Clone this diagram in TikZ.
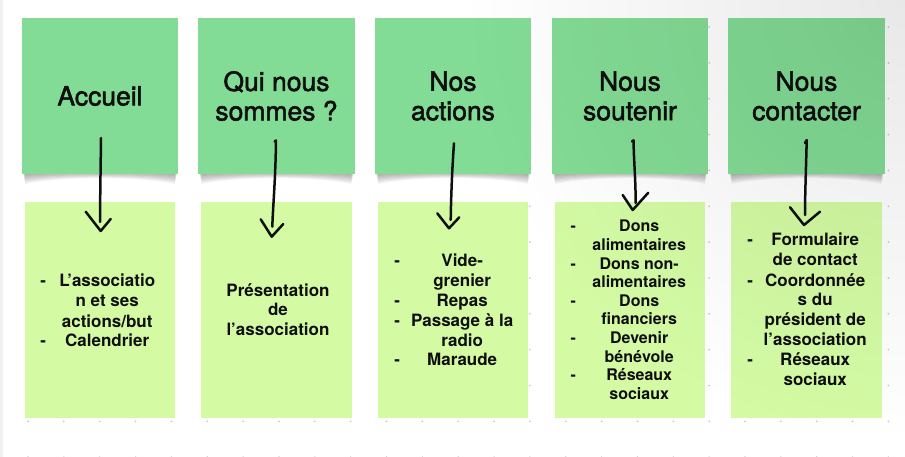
\documentclass[tikz,border=0pt]{standalone}
\usepackage{fontspec}
\setmainfont{TeX Gyre Heros}
\newfontfamily\titlefont{TeX Gyre Heros}[FakeBold=2]
\usepackage{array}
\usetikzlibrary{fadings}
\definecolor{topgreen}{RGB}{131,220,149}
\definecolor{botgreen}{RGB}{212,251,164}
\definecolor{dotgray}{RGB}{203,203,203}
\definecolor{ink}{RGB}{15,15,15}
\tikzfading[name=vigfade, inner color=transparent!0, outer color=transparent!100]
\newcolumntype{D}{>{\centering\arraybackslash}p{10pt}}
\newcolumntype{T}[1]{>{\centering\arraybackslash}p{#1}}
\begin{document}
\begin{tikzpicture}[x=1pt,y=-1pt,
  topbox/.style={fill=topgreen, minimum width=156.5pt, minimum height=156pt, inner sep=0pt, align=center, text=ink, font=\titlefont\fontsize{26.5}{29.5}\selectfont},
  botbox/.style={fill=botgreen, minimum width=150.5pt, minimum height=216pt, inner sep=0pt},
  btext/.style={inner sep=0pt, text=ink, font=\bfseries\fontsize{17}{20}\selectfont},
  btextsmall/.style={btext, font=\bfseries\fontsize{16}{18.6}\selectfont},
  stroke/.style={draw=ink, line width=2.5pt, line cap=round, line join=round},
  shadowlayer/.style={fill=black, fill opacity=0.045},
]
\useasboundingbox (0,0) rectangle (905,457);
\fill[white] (0,0) rectangle (905,457);
% dot grid
\foreach \i in {0,...,24}{\foreach \j in {0,...,12}{\fill[dotgray] ({28+35.85*\i},{27+35.85*\j}) circle (1pt);}}
\fill[gray!12] (0,0) rectangle (2.5,457);
% sticky note shadows (soft, layered)
\foreach \c in {100,276.5,453,630,806.5}{
  \foreach \k in {0,1,...,7}{
    \fill[shadowlayer] ({\c-77+0.3*\k},168) -- ({\c+77-0.3*\k},168) -- ({\c+77-0.3*\k},{175+1.3*\k}) .. controls ({\c+40},{172+0.6*\k}) and ({\c-40},{172+0.6*\k}) .. ({\c-77+0.3*\k},{175+1.3*\k}) -- cycle;
  }
}
% top notes
\node[topbox] (t1) at (100,96) {Accueil};
\node[topbox] (t2) at (276.5,96) {Qui nous\\sommes ?};
\node[topbox] (t3) at (453,96) {Nos\\actions};
\node[topbox] (t4) at (630,96) {Nous\\soutenir};
\node[topbox] (t5) at (806.5,96) {Nous\\contacter};
% bottom notes
\node[botbox] (b1) at (100,310) {};
\node[botbox] (b2) at (276.5,310) {};
\node[botbox] (b3) at (453,310) {};
\node[botbox] (b4) at (630,310) {};
\node[botbox] (b5) at (806.5,310) {};
% bottom texts
\node[btext, anchor=base west] (b1t) at (38,287) {\begin{tabular}[t]{@{}D@{}T{118pt}@{}}
-&L’associatio\\ &n et ses\\ &actions/but\\ -&Calendrier\end{tabular}};
\node[btext, anchor=base, font=\bfseries\fontsize{17}{19.6}\selectfont] (b2t) at (278,296) {\begin{tabular}[t]{@{}c@{}}
Présentation\\de\\l’association\end{tabular}};
\node[btext, anchor=base west] (b3t) at (392,266) {\begin{tabular}[t]{@{}D@{}T{120pt}@{}}
-&Vide-\\ &grenier\\ -&Repas\\ -&Passage à la\\ &radio\\ -&Maraude\end{tabular}};
\node[btextsmall, anchor=base west] (b4t) at (568,232) {\begin{tabular}[t]{@{}D@{}T{122pt}@{}}
-&Dons\\ &alimentaires\\ -&Dons non-\\ &alimentaires\\ -&Dons\\ &financiers\\ -&Devenir\\ &bénévole\\ -&Réseaux\\ &sociaux\end{tabular}};
\node[btext, anchor=base west] (b5t) at (745,246) {\begin{tabular}[t]{@{}D@{}T{120pt}@{}}
-&Formulaire\\ &de contact\\ -&Coordonnée\\ &s du\\ &président de\\ &l’association\\ -&Réseaux\\ &sociaux\end{tabular}};
% hand-drawn arrows
\coordinate (a1s) at (101,138);   \coordinate (a1e) at (100,222);
\coordinate (a1l) at (85.7,211.7); \coordinate (a1t) at (100.7,231); \coordinate (a1r) at (110.7,219);
\coordinate (a2h) at (274.6,141.5); \coordinate (a2s) at (276,140.5); \coordinate (a2e) at (272.3,226.7);
\coordinate (a2l) at (260.7,219.3); \coordinate (a2t) at (271.7,236.7); \coordinate (a2r) at (283.3,224);
\coordinate (a3s) at (454,143.3); \coordinate (a3e) at (450.7,220);
\coordinate (a3l) at (437.3,213.3); \coordinate (a3t) at (449,228.3); \coordinate (a3r) at (459.3,217.3);
\coordinate (a4h) at (632,141.5); \coordinate (a4s) at (633.5,140.3); \coordinate (a4e) at (635.5,203);
\coordinate (a4l) at (622.7,195); \coordinate (a4t) at (632.7,210); \coordinate (a4r) at (648.3,192.7);
\coordinate (a5h) at (805,143); \coordinate (a5s) at (806.7,140); \coordinate (a5e) at (805,215);
\coordinate (a5l) at (790,207.3); \coordinate (a5t) at (804,225); \coordinate (a5r) at (820,211.7);
\draw[stroke] (a1s) .. controls (100.6,170) and (100.1,200) .. (a1e);
\draw[stroke] (a1l) -- (a1t) -- (a1r);
\draw[stroke] (a2h) -- (a2s) .. controls (275.5,180) and (273,205) .. (a2e);
\draw[stroke] (a2l) -- (a2t) -- (a2r);
\draw[stroke] (a3s) .. controls (452,170) and (451,200) .. (a3e);
\draw[stroke] (a3l) -- (a3t) -- (a3r);
\draw[stroke] (a4h) -- (a4s) .. controls (634,165) and (636,185) .. (a4e);
\draw[stroke] (a4l) -- (a4t) -- (a4r);
\draw[stroke] (a5h) -- (a5s) .. controls (806,170) and (805,195) .. (a5e);
\draw[stroke] (a5l) -- (a5t) -- (a5r);
% top-right vignette
\begin{scope}
\clip (0,0) rectangle (905,457);
\fill[black, fill opacity=0.09, path fading=vigfade] (905,0) circle (440pt);
\end{scope}
\end{tikzpicture}
\end{document}
